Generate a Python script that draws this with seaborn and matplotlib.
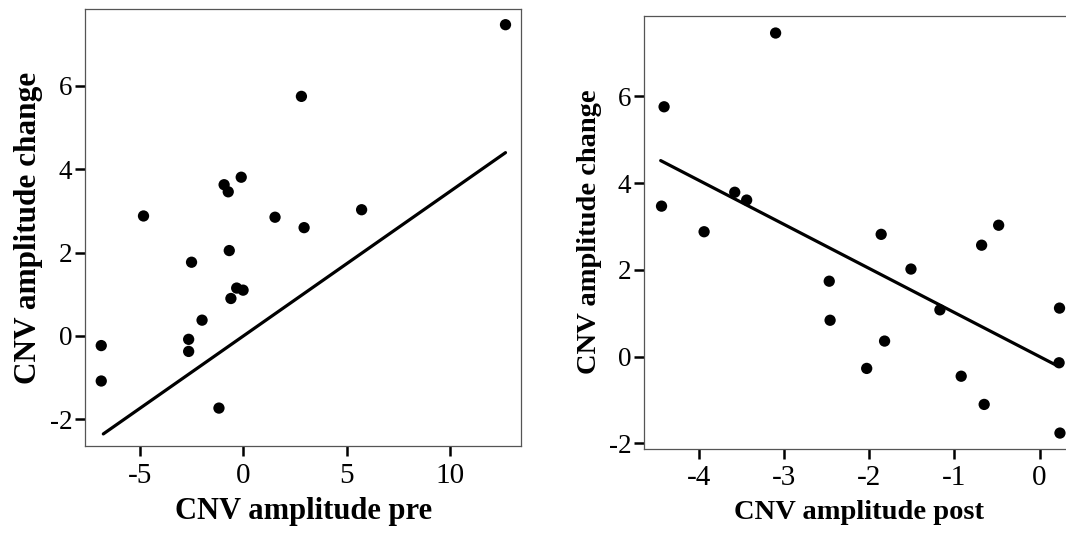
import matplotlib
matplotlib.use("Agg")
import matplotlib.pyplot as plt
import seaborn as sns
import pandas as pd

# ---- data ----
pre = [12.71, 2.81, -0.11, -0.94, -0.74, -4.85, 1.53, 5.73, 2.94, -0.69,
       -2.52, -0.33, -0.02, -0.61, -2.01, -2.66, -2.66, -6.90, -6.90, -1.19]
change_pre = [7.47, 5.75, 3.81, 3.63, 3.46, 2.88, 2.85, 3.03, 2.60, 2.05,
              1.77, 1.15, 1.10, 0.90, 0.38, -0.08, -0.37, -0.23, -1.08, -1.73]

post = [-3.10, -4.41, -4.44, -3.58, -3.44, -3.94, -1.86, -0.48, -0.68, -1.51,
        -2.47, 0.235, -1.17, -2.46, -1.82, 0.23, -2.03, -0.92, -0.65, 0.24]
change_post = [7.46, 5.76, 3.47, 3.79, 3.61, 2.88, 2.82, 3.03, 2.57, 2.02,
               1.74, 1.12, 1.08, 0.84, 0.36, -0.14, -0.27, -0.45, -1.10, -1.76]

fit_pre_x = [-6.80, 12.71]
fit_pre_y = [-2.35, 4.40]
fit_post_x = [-4.45, 0.20]
fit_post_y = [4.52, -0.20]

pre_xticks = [-5, 0, 5, 10]
post_xticks = [-4, -3, -2, -1, 0]
yticks = [-2, 0, 2, 4, 6]

sns.set_theme(style="ticks")
plt.rcParams["font.family"] = ["Liberation Serif", "DejaVu Serif"]
plt.rcParams["axes.unicode_minus"] = False
plt.rcParams["text.color"] = "black"
plt.rcParams["axes.labelcolor"] = "black"
plt.rcParams["xtick.color"] = "black"
plt.rcParams["ytick.color"] = "black"

fig = plt.figure(figsize=(10.66, 5.33), dpi=100)
ax1 = fig.add_axes([0.0797, 0.1632, 0.4094, 0.8194])
ax2 = fig.add_axes([0.6038, 0.1582, 0.4049, 0.8124])

df_pre = pd.DataFrame({"x": pre, "y": change_pre})
df_post = pd.DataFrame({"x": post, "y": change_post})

sns.scatterplot(data=df_pre, x="x", y="y", ax=ax1, color="black", s=66,
                edgecolor="none", zorder=3)
sns.lineplot(x=fit_pre_x, y=fit_pre_y, ax=ax1, color="black", lw=2.3,
             sort=False, estimator=None)
sns.scatterplot(data=df_post, x="x", y="y", ax=ax2, color="black", s=66,
                edgecolor="none", zorder=3)
sns.lineplot(x=fit_post_x, y=fit_post_y, ax=ax2, color="black", lw=2.3,
             sort=False, estimator=None)

ax1.set_xlim(-7.69, 13.48)
ax1.set_ylim(-2.64, 7.84)
ax2.set_xlim(-4.65, 0.42)
ax2.set_ylim(-2.12, 7.86)

for ax, xt in ((ax1, pre_xticks), (ax2, post_xticks)):
    ax.set_xticks(xt)
    ax.set_yticks(yticks)
    ax.set_xticklabels([str(v) for v in xt], fontsize=21)
    ax.set_yticklabels([str(v) for v in yticks], fontsize=19.5)
    ax.tick_params(axis="both", direction="out", length=7, width=1.8,
                   color="black", labelcolor="black")
    ax.tick_params(axis="x", pad=5)
    ax.tick_params(axis="y", pad=2)
    for sp in ax.spines.values():
        sp.set_visible(True)
        sp.set_color("#555555")
        sp.set_linewidth(0.9)
    ax.grid(False)

ax1.set_xlabel("CNV amplitude pre", fontsize=22, fontweight="bold", labelpad=6,
               color="black")
ax1.set_ylabel("CNV amplitude change", fontsize=22.5, fontweight="bold", labelpad=5,
               color="black")
ax2.set_xlabel("CNV amplitude post", fontsize=20.5, fontweight="bold", labelpad=6,
               color="black")
ax2.set_ylabel("CNV amplitude change", fontsize=20.5, fontweight="bold", labelpad=5,
               color="black")

fig.savefig("out.png", dpi=100)
